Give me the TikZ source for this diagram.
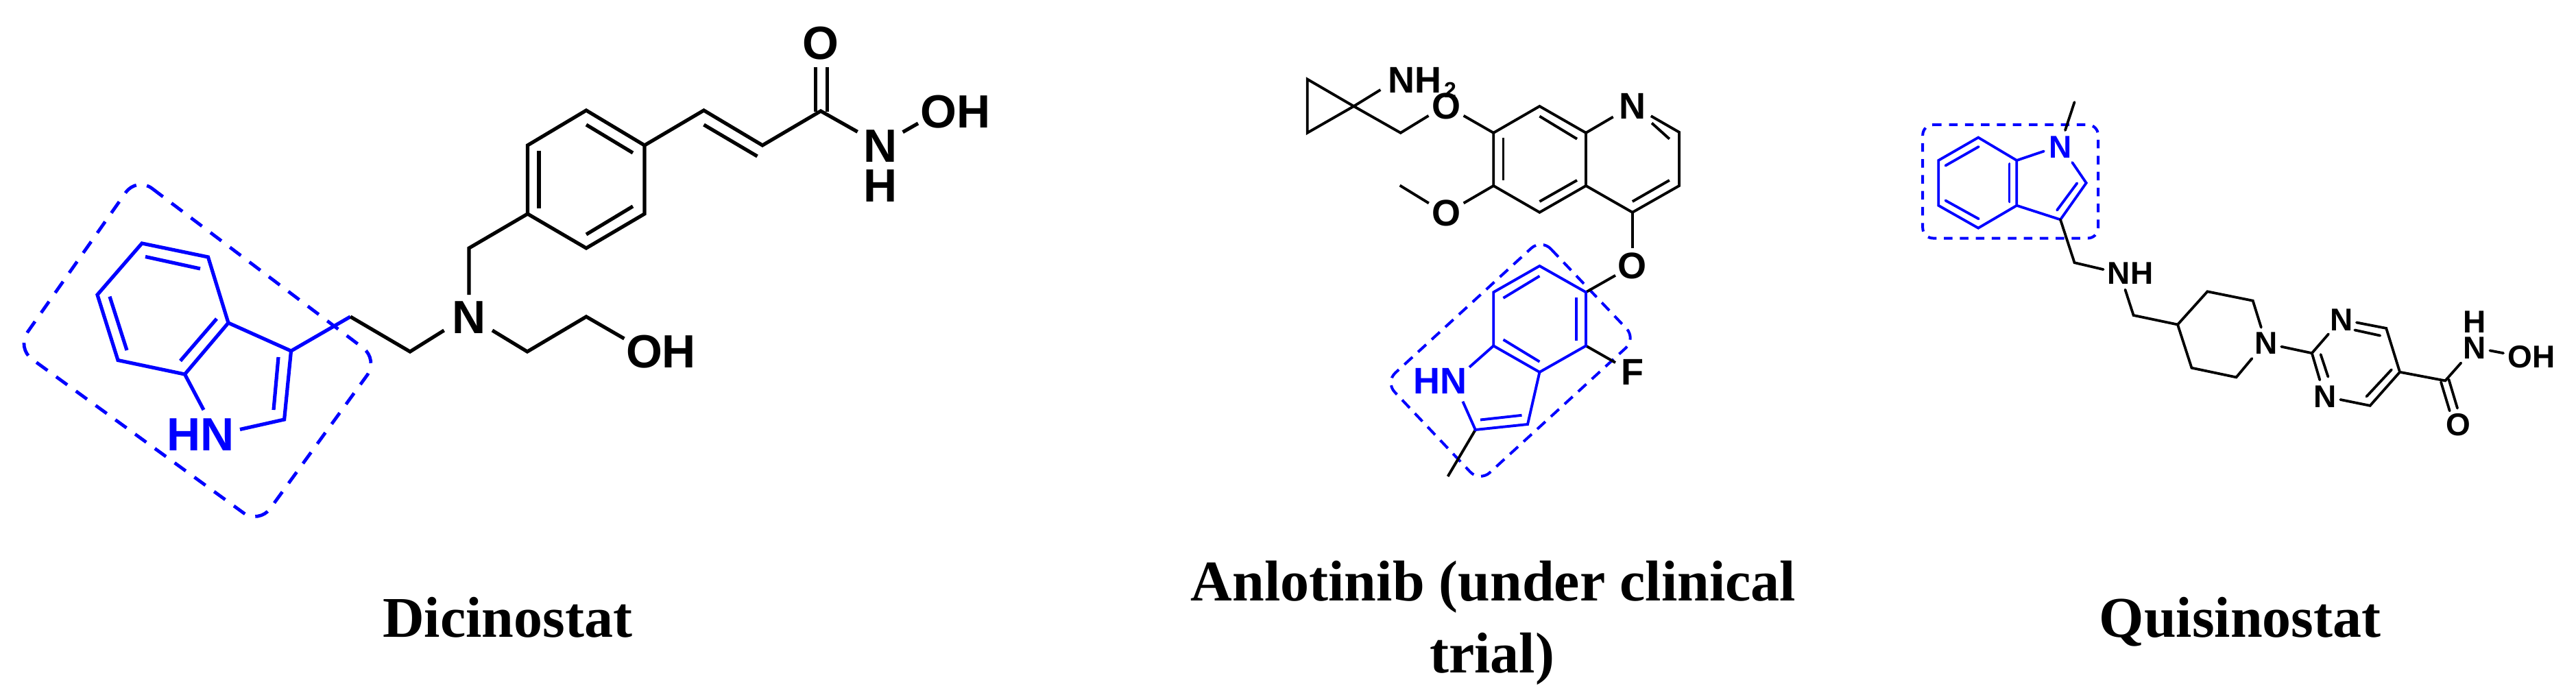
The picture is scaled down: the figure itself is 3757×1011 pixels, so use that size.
\documentclass[tikz,border=0pt]{standalone}
\usepackage{fontspec}
\setmainfont{Liberation Serif}
\setsansfont{Liberation Sans}
\definecolor{pureblue}{RGB}{0,0,255}
\newcommand{\pts}[1]{\foreach \n/\x/\y in {#1} {\coordinate (\n) at (\x,\y);}}
\tikzset{
  bondA/.style={line width=5.2pt,line join=miter,line cap=butt},
  bondB/.style={line width=3.9pt,line join=miter,line cap=butt},
  bondC/.style={line width=3.8pt,line join=miter,line cap=round},
  atomA/.style={inner sep=0pt,font=\fontsize{68}{68}\selectfont\sffamily\bfseries},
  atomB/.style={inner sep=0pt,font=\fontsize{54}{54}\selectfont\sffamily\bfseries},
  atomC/.style={inner sep=0pt,font=\fontsize{46}{46}\selectfont\sffamily\bfseries},
  caption/.style={inner sep=0pt,font=\fontsize{84}{84}\selectfont\bfseries},
  boxA/.style={pureblue,line width=4.8pt,dash pattern=on 20pt off 15.6pt},
  boxB/.style={pureblue,line width=4pt,dash pattern=on 16pt off 11pt},
  boxC/.style={pureblue,line width=4pt,dash pattern=on 12.5pt off 10.8pt},
}
\begin{document}
\begin{tikzpicture}[x=1pt,y=-1pt]
\useasboundingbox (0,0) rectangle (3757,1011);
% ---------- Dicinostat
\pts{a1/207/355,a2/303.5/375,a3/333/471,a4/269.5/546,a5/172/525.5,a6/142/430,c3/424.5/512,c2/414.6/612,
nA/297/598,nB/350/626.5,i1/212/374.5,i2/292/392,i3/160/432.6,i4/185/511,i5/316/465,i6/263/526.5,i7/406/521,i8/399/598,
ch1/511/462,ch2/598/513,nl/647.6/482,nr/718/482,ch3/769/513,ch4/855/462,ohE/910.4/494,
nt/684/430,ch5/684/362,
b1/769.5/312,b2/769.5/212,b3/855/161,b4/940/212,b5/940/312,b6/855/362,
j1/786/220,j2/786/303.6,j3/855/182,j4/923/223,j5/855/342,j6/923/301,
v1/1026.5/161,v2/1112/212,v3/1026.5/182,v4/1104.5/228,
co/1197/162,cn/1250.7/192.3,coL/1189.3/163,coLt/1189.3/98,coR/1206.7/163,coRt/1206.7/98,
no1/1316.7/192.7,no2/1339/180,
dA1/199.4/258,dA2/552/524.6,dA3/377.6/764.6,dA4/24/507.5}
\draw[boxA,rounded corners=28pt] (dA1) -- (dA2) -- (dA3) -- (dA4) -- cycle;
\draw[bondA,pureblue,line join=miter] (a3) -- (a2) -- (a1) -- (a6) -- (a5) -- (a4) -- (a3) -- (c3) -- (c2) -- (nB);
\draw[bondA,pureblue] (a4) -- (nA);
\draw[bondA,pureblue] (c3) -- (ch1);
\draw[bondA,pureblue] (i1) -- (i2);
\draw[bondA,pureblue] (i3) -- (i4);
\draw[bondA,pureblue] (i5) -- (i6);
\draw[bondA,pureblue] (i7) -- (i8);
\draw[bondA] (ch1) -- (ch2) -- (nl);
\draw[bondA] (nr) -- (ch3) -- (ch4) -- (ohE);
\draw[bondA] (nt) -- (ch5) -- (b1);
\draw[bondA] (b1) -- (b2) -- (b3) -- (b4) -- (b5) -- (b6) -- cycle;
\draw[bondA] (j1) -- (j2);
\draw[bondA] (j3) -- (j4);
\draw[bondA] (j5) -- (j6);
\draw[bondA] (b4) -- (v1) -- (v2) -- (co) -- (cn);
\draw[bondA] (v3) -- (v4);
\draw[bondA] (coL) -- (coLt);
\draw[bondA] (coR) -- (coRt);
\draw[bondA] (no1) -- (no2);
\node[atomA,pureblue] (hnA) at (293,634) {HN};
\node[atomA] (nA0) at (684,463) {N};
\node[atomA] (ohA) at (964,513) {OH};
\node[atomA] (oA) at (1197,63) {O};
\node[atomA] (nA1) at (1284,213) {N};
\node[atomA] (hA1) at (1284,271) {H};
\node[atomA] (ohA2) at (1393.7,163) {OH};
% ---------- Anlotinib
\pts{p1/1906.7/115.6,p2/1906.7/193.8,p3/1974.4/155,nh/2013.4/131,p4/2042.7/193.8,o1a/2083.5/168.8,o1b/2134.6/168.8,
q1/2178.2/193.8,q2/2245.4/155,q3/2313/193.8,q4/2313/271,q5/2245.4/309.8,q6/2178.2/271,
k1/2245.4/169.6,k2/2300/202.7,k3/2192.5/200.9,k4/2192.5/263.4,k5/2245.4/294,k6/2300/263,
nq1/2352.7/170.5,nq2/2407.8/169.2,q7/2449/192.9,q8/2449/271,q9/2380.8/309.8,k7/2409/179.5,k8/2434.8/202.7,k9/2434.8/263,k10/2380.8/294,
oe/2380.8/361.6,o2a/2134.6/296.4,o2b/2083.8/296.4,me/2041.6/270.5,
oa/2356/401.8,
r1/2245.4/388,r2/2313/426.3,r3/2313/504.5,r4/2245.4/542.9,r5/2178.2/504.5,r6/2178.2/426.3,
l1/2245.4/402.7,l2/2192.5/434.8,l3/2298.7/434,l4/2298.7/497.3,l5/2192.5/495.5,l6/2245.4/527.7,
r7/2228/619,r8/2151.8/627,hn1/2133.4/585.7,hn2/2143/535.7,l7/2159/612.5,l8/2219.5/605.8,
r9/2111.6/695,fb/2356/529,
dB1/2248/348.6,dB2/2386/494,dB3/2158/703,dB4/2020.3/557.4}
\draw[boxB,rounded corners=20pt] (dB1) -- (dB2) -- (dB3) -- (dB4) -- cycle;
\draw[bondB] (p3) -- (p1) -- (p2) -- (p3) -- (nh);
\draw[bondB] (p3) -- (p4) -- (o1a);
\draw[bondB] (o1b) -- (q1);
\draw[bondB] (q1) -- (q2) -- (q3) -- (q4) -- (q5) -- (q6) -- cycle;
\draw[bondB] (k1) -- (k2);
\draw[bondB] (k3) -- (k4);
\draw[bondB] (k5) -- (k6);
\draw[bondB] (q3) -- (nq1);
\draw[bondB] (nq2) -- (q7) -- (q8) -- (q9) -- (q4);
\draw[bondB] (k7) -- (k8);
\draw[bondB] (k9) -- (k10);
\draw[bondB] (q9) -- (oe);
\draw[bondB] (q6) -- (o2a);
\draw[bondB] (o2b) -- (me);
\draw[bondB] (oa) -- (r2);
\draw[bondB] (r3) -- (fb);
\draw[bondB] (r8) -- (r9);
\draw[bondB,pureblue] (r1) -- (r2) -- (r3) -- (r4) -- (r5) -- (r6) -- cycle;
\draw[bondB,pureblue] (l1) -- (l2);
\draw[bondB,pureblue] (l3) -- (l4);
\draw[bondB,pureblue] (l5) -- (l6);
\draw[bondB,pureblue] (r4) -- (r7) -- (r8) -- (hn1);
\draw[bondB,pureblue] (r5) -- (hn2);
\draw[bondB,pureblue] (l7) -- (l8);
\node[atomB,anchor=base west] (nh2) at (2024,135.5) {NH\kern4pt\raisebox{-7pt}{\fontsize{32}{32}\selectfont 2}};
\node[atomB] (o1) at (2109.5,154.5) {O};
\node[atomB] (nq) at (2380.8,155.4) {N};
\node[atomB] (o2) at (2109.3,311) {O};
\node[atomB] (o3) at (2380.8,388) {O};
\node[atomB,pureblue] (hnB) at (2100,555.8) {HN};
\node[atomB] (fB) at (2380.8,543) {F};
% ---------- Quisinostat
\pts{s1/2885.2/200.6,s2/2941.3/234,s3/2941.3/299.8,s4/2885.2/332.7,s5/2827.2/299.8,s6/2827.2/234,
m1/2885.8/214,m2/2837.4/241.6,m3/2930.5/239,m4/2930.5/294.4,m5/2837.4/292.5,m6/2885.8/319.3,
ns1/2980.9/220.6,ns2/3022.3/237,s7/3042.7/266.9,s8/3005/320.4,m7/3029.3/267.2,m8/3000/306.7,
t1/3012/190,t2/3025.5/149,
u1/3025.5/383.2,u2/3067.6/393.1,u3/3099.5/422.6,u4/3111.6/460,u5/3176/473.5,
w1/3219.4/425.3,w2/3285.7/438.7,w3/3297.8/477.7,w4/3284.4/522.9,w5/3261.5/550.4,w6/3196.4/536.7,
e1/3327.2/505.7,e2/3371.8/515.2,e3/3396/487.3,e4/3436.9/470.5,e5/3480.2/478.9,e6/3434.3/481.5,e7/3471.3/489.6,
e8/3500/542.8,e9/3456.6/591.8,e10/3413.3/583,e11/3383.3/554.3,e12/3384.6/517,e13/3395.4/549.7,e14/3487.9/539.3,e15/3451.5/578.4,
e16/3566.3/555.4,e17/3589.3/529.4,e18/3631.4/511.4,e19/3651/515.2,
f1/3560/557.3,f2/3572.7/599.4,f3/3571.4/553.5,f4/3584/595.6,
dC1/2804.2/182,dC2/3060/182,dC3/3060/347.5,dC4/2804.2/347.5}
\draw[boxC,rounded corners=15pt] (dC1) -- (dC2) -- (dC3) -- (dC4) -- cycle;
\draw[bondC,pureblue] (s1) -- (s2) -- (s3) -- (s4) -- (s5) -- (s6) -- cycle;
\draw[bondC,pureblue] (m1) -- (m2);
\draw[bondC,pureblue] (m3) -- (m4);
\draw[bondC,pureblue] (m5) -- (m6);
\draw[bondC,pureblue] (s2) -- (ns1);
\draw[bondC,pureblue] (ns2) -- (s7) -- (s8) -- (s3);
\draw[bondC,pureblue] (m7) -- (m8);
\draw[bondC] (t1) -- (t2);
\draw[bondC] (s8) -- (u1) -- (u2);
\draw[bondC] (u3) -- (u4) -- (u5) -- (w1) -- (w2) -- (w3);
\draw[bondC] (u5) -- (w6) -- (w5) -- (w4);
\draw[bondC] (e1) -- (e2) -- (e3);
\draw[bondC] (e2) -- (e11);
\draw[bondC] (e4) -- (e5) -- (e8) -- (e9) -- (e10);
\draw[bondC] (e6) -- (e7);
\draw[bondC] (e12) -- (e13);
\draw[bondC] (e14) -- (e15);
\draw[bondC] (e8) -- (e16) -- (e17);
\draw[bondC] (e18) -- (e19);
\draw[bondC] (f1) -- (f2);
\draw[bondC] (f3) -- (f4);
\node[atomC,pureblue] (nC0) at (3005,214.8) {N};
\node[atomC] (nhC) at (3107,398.9) {NH};
\node[atomC] (nC1) at (3304.8,501) {N};
\node[atomC] (nC2) at (3415.2,466.6) {N};
\node[atomC] (nC3) at (3391,578.4) {N};
\node[atomC] (nC4) at (3609,507.6) {N};
\node[atomC] (hC4) at (3609,469.3) {H};
\node[atomC] (ohC) at (3692,521) {OH};
\node[atomC] (oC) at (3585.4,619.7) {O};
% ---------- captions
\node[caption,anchor=base] (capA) at (740,929) {Dicinostat};
\node[caption,anchor=base] (capB1) at (2178,876.7) {Anlotinib (under clinical};
\node[caption,anchor=base] (capB2) at (2176,981.7) {trial)};
\node[caption,anchor=base east] (capC) at (3472.7,929) {Quisinostat};
\end{tikzpicture}
\end{document}
